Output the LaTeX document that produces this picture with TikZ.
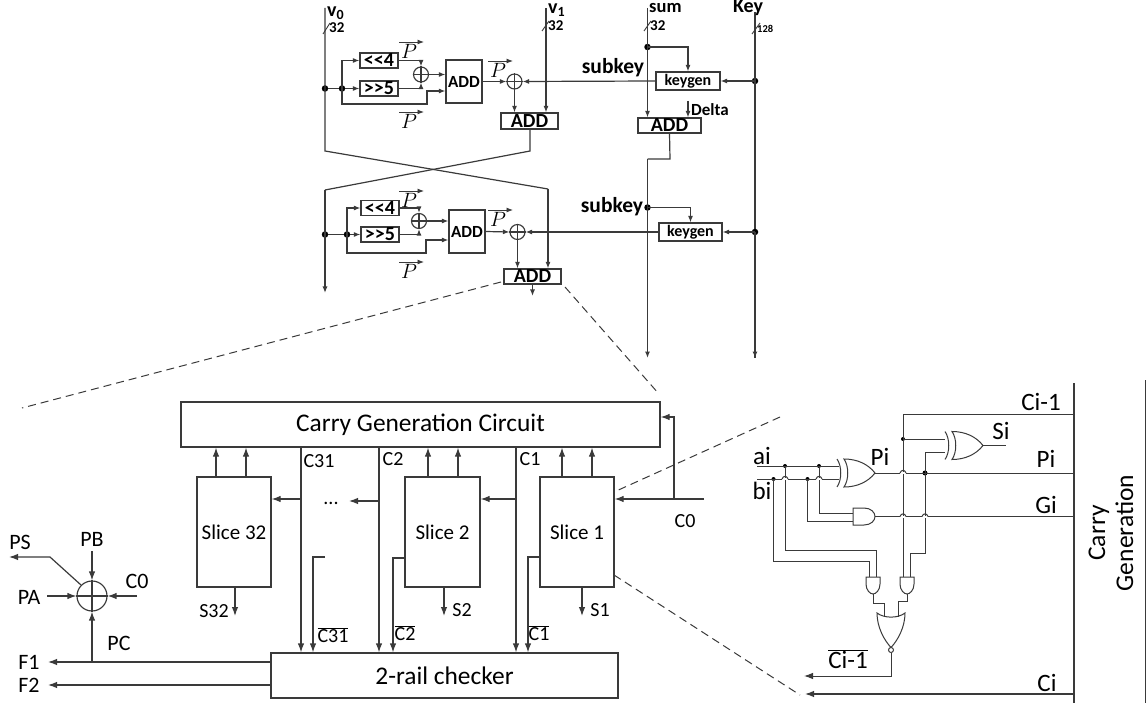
\documentclass[tikz,border=0pt]{standalone}
\usepackage{fontspec}
\setmainfont{Carlito}
\usetikzlibrary{arrows.meta}
\definecolor{ink}{HTML}{3A3A3A}
\tikzset{
  wire/.style={draw=ink,line width=1.2pt,line join=miter},
  thin wire/.style={draw=ink,line width=1pt,line join=miter},
  arrS/.style={wire,-{Latex[length=6.5pt,width=5pt]}},
  arrL/.style={wire,-{Latex[length=9pt,width=6.5pt]}},
  boxn/.style={draw=ink,line width=1.2pt,fill=white,inner sep=0pt,text=black},
  dot/.style={circle,fill=black,inner sep=0pt,minimum size=6.5pt},
  sdot/.style={circle,fill=black,inner sep=0pt,minimum size=4pt},
  xorc/.style={circle,draw=ink,line width=1.15pt,inner sep=0pt,minimum size=15pt},
  tb/.style={inner sep=0pt,font=\fontsize{17}{17}\selectfont\bfseries},
  tbm/.style={inner sep=0pt,font=\fontsize{20}{20}\selectfont\bfseries},
  tbs/.style={inner sep=0pt,font=\fontsize{16}{16}\selectfont\bfseries},
  tb32/.style={inner sep=0pt,font=\fontsize{15}{15}\selectfont\bfseries},
  tbl/.style={inner sep=0pt,font=\fontsize{21.5}{21.5}\selectfont\bfseries},
  tm/.style={inner sep=0pt,font=\fontsize{25.4}{25.4}\selectfont},
  ts/.style={inner sep=0pt,font=\fontsize{21}{21}\selectfont},
  tn/.style={inner sep=0pt,font=\fontsize{20}{20}\selectfont},
  tg/.style={inner sep=0pt,font=\fontsize{22}{22}\selectfont},
  tr/.style={inner sep=0pt,font=\fontsize{25}{25}\selectfont},
  pl/.style={inner sep=0pt,font=\fontsize{21}{21}\selectfont},
  dashline/.style={draw=ink,line width=1pt,dash pattern=on 8pt off 5pt},
  tick/.style={draw=ink,line width=.9pt},
}
\newcommand{\hopat}[2]{%
  \draw[white,line width=2pt] (#1-3,#2) -- (#1+3,#2);
  \draw[thin wire] (#1-3,#2) .. controls (#1-2,#2-3.5) and (#1+2,#2-3.5) .. (#1+3,#2);}
\newcommand{\xorgate}[3]{%
  \draw[thin wire] (#1+4,#2-14) .. controls (#1+17,#2-14) and (#1+28,#2-9) .. (#1+35,#2)
     .. controls (#1+28,#2+9) and (#1+17,#2+14) .. (#1+4,#2+14)
     .. controls (#1+9,#2+7) and (#1+9,#2-7) .. (#1+4,#2-14) -- cycle;
  \draw[thin wire] (#1-3,#2-14) .. controls (#1+2,#2-7) and (#1+2,#2+7) .. (#1-3,#2+14);
  \coordinate (#3) at (#1+35,#2);}
\newcommand{\andright}[3]{% back x, centre y
  \draw[thin wire] (#1,#2-8.5) -- (#1+11,#2-8.5) .. controls (#1+18,#2-8.5) and (#1+22,#2-4) .. (#1+22,#2)
     .. controls (#1+22,#2+4) and (#1+18,#2+8.5) .. (#1+11,#2+8.5) -- (#1,#2+8.5) -- cycle;
  \coordinate (#3) at (#1+22,#2);}
\newcommand{\anddown}[3]{% left x, top y
  \draw[thin wire] (#1,#2) -- (#1+14,#2) -- (#1+14,#2+7) .. controls (#1+14,#2+13) and (#1+10,#2+17) .. (#1+7,#2+17)
     .. controls (#1+4,#2+17) and (#1,#2+13) .. (#1,#2+7) -- cycle;
  \coordinate (#3) at (#1+7,#2+17);}
\begin{document}
\begin{tikzpicture}[x=1pt,y=-1pt]
\useasboundingbox (0,0) rectangle (1146,703);

% ===== Named junctions of the cipher rounds =====
\coordinate (v0t) at (325,8);
\coordinate (v1t) at (546,8);
\coordinate (sumt) at (647.5,8);
\coordinate (keyt) at (755,12);
\coordinate (keyb) at (755,358);
\coordinate (sumb) at (647.5,358);
\coordinate (a1) at (325,151);
\coordinate (a2) at (548,189);
\coordinate (b1) at (530,151);
\coordinate (b2) at (325,190);
\coordinate (v0b) at (325,293);
\coordinate (delta) at (688,101);
\coordinate (c1) at (670,159);
\coordinate (c2) at (647.5,159);

% ----- round 1
\node[boxn,tbm,minimum width=38pt,minimum height=15pt] (sl1) at (379,60.5) {<{}<4};
\node[boxn,tbm,minimum width=38pt,minimum height=15pt] (sr1) at (379,88.5) {>{}>5};
\node[boxn,tb,minimum width=36pt,minimum height=43pt] (add1) at (464,81.5) {ADD};
\node[xorc] (x1) at (421,74.5) {};
\node[xorc] (x2) at (514.5,81.5) {};
\node[boxn,tbm,minimum width=57pt,minimum height=16pt] (add2) at (529.5,121) {ADD};
\node[boxn,tbs,minimum width=64pt,minimum height=18pt] (kg1) at (688,81) {keygen};
\node[boxn,tbm,minimum width=63pt,minimum height=15pt] (add3) at (669.5,125.5) {ADD};
\node[dot] (d1) at (325,88.5) {};
\node[dot] (d2) at (342,88.5) {};
\node[dot] (dsum) at (647.5,47) {};
\node[dot] (dkey1) at (755,81) {};

\draw[wire] (x1.north)--(x1.south) (x1.west)--(x1.east);
\draw[wire] (x2.north)--(x2.south) (x2.west)--(x2.east);
\draw[wire] (v0t)--(a1)--(a2);
\draw[wire] (d1)--(d2);
\draw[arrS] (d2) -- (sr1.west);
\draw[arrS] (d2.center) |- (sl1.west);
\draw[arrS] (d2.center) -- (342,104) -- (427,104) -- (427,91) -- (add1.west |- 427,91);
\draw[arrS] (sl1.east) -| (x1.north);
\draw[arrS] (sr1.east) -| (x1.south);
\draw[arrS] (x1.east) -- (add1.west |- x1.east);
\draw[arrS] (add1.east) -- (x2.west);
\draw[arrS] (kg1.west) -- (x2.east);
\draw[arrS] (x2.south) -- (add2.north -| x2.south);
\draw[arrS] (v1t) -- (add2.north -| v1t);
\draw[wire] (add2.south) ++(0.5,0) -- (b1) -- (b2);
\draw[arrS] (sumt) -- (add3.north -| sumt);
\draw[arrS] (dsum.center) -| (kg1.north);
\draw[wire] (keyt) -- (keyb);
\draw[arrS] (dkey1.center) -- (kg1.east);
\draw[arrS] (delta) -- (add3.north -| delta);
\draw[wire] (add3.south) -- (c1) -- (c2);

% ----- round 2
\node[boxn,tbm,minimum width=38pt,minimum height=15pt] (sl2) at (380,208) {<{}<4};
\node[boxn,tbm,minimum width=38pt,minimum height=15pt] (sr2) at (380,234.5) {>{}>5};
\node[boxn,tb,minimum width=36pt,minimum height=43pt] (add4) at (467,231.5) {ADD};
\node[xorc] (x3) at (419,221) {};
\node[xorc] (x4) at (517.5,232) {};
\node[boxn,tbm,minimum width=57pt,minimum height=15pt] (add5) at (532.5,276.5) {ADD};
\node[boxn,tbs,minimum width=63pt,minimum height=18pt] (kg2) at (690.5,232) {keygen};
\node[dot] (d3) at (325,234.5) {};
\node[dot] (d4) at (347,234.5) {};
\node[dot] (dsub) at (647.5,207.5) {};
\node[dot] (dkey2) at (755,232) {};
\coordinate (add5out) at (532.5,296);

\draw[wire] (x3.north)--(x3.south) (x3.west)--(x3.east);
\draw[wire] (x4.north)--(x4.south) (x4.west)--(x4.east);
\draw[arrS] (b2) -- (v0b);
\draw[wire] (d3)--(d4);
\draw[arrS] (d4) -- (sr2.west);
\draw[arrS] (d4.center) |- (sl2.west);
\draw[arrS] (d4.center) -- (347,253) -- (426,253) -- (426,240) -- (add4.west |- 426,240);
\draw[arrS] (sl2.east) -| (x3.north);
\draw[arrS] (sr2.east) -| (x3.south);
\draw[arrS] (x3.east) -- (add4.west |- x3.east);
\draw[arrS] (add4.east) -- (x4.west);
\draw[arrS] (kg2.west) -- (x4.east);
\draw[arrS] (x4.south) -- (add5.north -| x4.south);
\draw[arrS] (a2) -- (add5.north -| a2);
\draw[arrS] (add5.south) -- (add5out);
\draw[arrS] (c2) -- (sumb);
\draw[arrS] (dsub.center) -| (kg2.north);
\draw[arrS] (dkey2.center) -- (kg2.east);
\draw[arrS] (dkey2.center) -- (keyb);

% bus ticks
\draw[tick] (323,34)--(330,23);
\draw[tick] (542,31)--(549,21);
\draw[tick] (644,31)--(651,21);
\draw[tick] (752,34)--(760,23);

% P arrows
\foreach \n/\x/\y in {pa/399/42,pb/488/61,pc/399/112,pd/399/191,pe/488/210,pf/399/262}{
  \coordinate (\n s) at (\x,\y);
  \coordinate (\n e) at (\x+25,\y);
  \draw[arrS,line width=.9pt] (\n s) -- (\n e);
  \node[pl] (\n t) at (\x+10,\y+9) {$P$};
}

% top labels
\node[tbm,anchor=west] (lv0) at (327,13) {v\textsubscript{0}};
\node[tb32,anchor=west] (l32a) at (329,28) {32};
\node[tbm,anchor=west] (lv1) at (548,10) {v\textsubscript{1}};
\node[tb32,anchor=west] (l32b) at (548,26) {32};
\node[tb,font=\fontsize{18.5}{18.5}\selectfont\bfseries,anchor=west] (lsum) at (649,8) {sum};
\node[tb32,anchor=west] (l32c) at (650,26) {32};
\node[tbm] (lkey) at (748,8) {Key};
\node[inner sep=0pt,anchor=west,font=\fontsize{10.5}{10.5}\selectfont\bfseries] (l128) at (757,29) {128};
\node[tbl] (lsk1) at (613,68) {subkey};
\node[tbl] (lsk2) at (612,207) {subkey};
\node[tbs,font=\fontsize{17}{17}\selectfont\bfseries,anchor=west] (ldelta) at (691,110) {Delta};

% dashed magnifier lines
\coordinate (m1) at (501,282);
\coordinate (m2) at (22,408);
\coordinate (m3) at (565,287);
\coordinate (m4) at (659,394);
\coordinate (m5) at (780,417);
\coordinate (m6) at (614,492);
\coordinate (m7) at (614,575);
\coordinate (m8) at (800,695);
\draw[dashline] (m1)--(m2);
\draw[dashline] (m3)--(m4);
\draw[dashline] (m5)--(m6);
\draw[dashline] (m7)--(m8);

% ===== Adder =====
\node[boxn,tm,minimum width=479pt,minimum height=45pt] (cgc) at (420.5,424.5) {Carry Generation Circuit};
\node[boxn,ts,minimum width=74pt,minimum height=110pt] (s1) at (577,532) {Slice 1};
\node[boxn,ts,minimum width=75pt,minimum height=110pt] (s2) at (442.5,532) {Slice 2};
\node[boxn,ts,minimum width=74pt,minimum height=110pt] (s32) at (234,532) {Slice 32};
\node[boxn,tm,minimum width=347pt,minimum height=45pt] (chk) at (444.5,675.5) {2-rail checker};
\coordinate (c0r) at (704,499);
\coordinate (c0j) at (674,499);
\coordinate (c0u) at (674,417);

\draw[arrL] (c0r) -- (s1.east |- c0r);
\draw[arrL] (c0j) -- (c0u) -- (cgc.east |- c0u);
\foreach \x in {562,592}{\draw[arrL] (s1.north -| \x,0) -- (cgc.south -| \x,0);}
\foreach \x in {428,458}{\draw[arrL] (s2.north -| \x,0) -- (cgc.south -| \x,0);}
\foreach \x in {216,246}{\draw[arrL] (s32.north -| \x,0) -- (cgc.south -| \x,0);}
\foreach \x in {516,379,301}{\draw[arrL] (cgc.south -| \x,0) -- (chk.north -| \x,0);}
\draw[arrL] (516,499) -- (s2.east |- 516,499);
\coordinate (dots) at (349,501);
\draw[arrL] (379,501) -- (dots);
\draw[arrL] (301,499) -- (s32.east |- 301,499);
\draw[arrL] (s1.west |- 528,557) -- (528,557) -- (chk.north -| 528,0);
\draw[arrL] (s2.west |- 393,558) -- (393,558) -- (chk.north -| 393,0);
\coordinate (c31s) at (325,557);
\draw[arrL] (c31s) -- (313,557) -- (chk.north -| 313,0);
\coordinate (s1o) at (582,616);
\coordinate (s2o) at (444,616);
\coordinate (s32o) at (235,616);
\draw[arrL] (s1.south -| s1o) -- (s1o);
\draw[arrL] (s2.south -| s2o) -- (s2o);
\draw[arrL] (s32.south -| s32o) -- (s32o);

\node[tn] (tc0) at (685,521) {C0};
\node[tn] (tc31) at (319,461) {C31};
\node[tn] (tc2) at (393,459) {C2};
\node[tn] (tc1) at (530,459) {C1};
\node[tn] (tdots) at (331,503) {...};
\node[tn] (ts1) at (600,610) {S1};
\node[tn] (ts2) at (462,610) {S2};
\node[tn] (ts32) at (214,611) {S32};
\node[tn] (tc31b) at (333,635) {$\overline{\mbox{C31}}$};
\node[tn] (tc2b) at (405,633) {$\overline{\mbox{C2}}$};
\node[tn] (tc1b) at (539,633) {$\overline{\mbox{C1}}$};

% parity
\node[circle,draw=ink,line width=1.15pt,inner sep=0pt,minimum size=30pt] (pcirc) at (92,596) {};
\draw[wire] (pcirc.north)--(pcirc.south) (pcirc.west)--(pcirc.east);
\coordinate (pbs) at (92,551);
\coordinate (pas) at (47,596);
\coordinate (c0s) at (137,596);
\coordinate (f1j) at (92,662);
\coordinate (f1e) at (48,662);
\coordinate (f2e) at (48,685);
\coordinate (psb) at (50,557);
\coordinate (pse) at (9,557);
\draw[arrL] (pbs) -- (pcirc.north);
\draw[arrL] (pas) -- (pcirc.west);
\draw[arrL] (c0s) -- (pcirc.east);
\draw[arrL] (f1j) -- (pcirc.south);
\draw[arrL] (chk.west |- f1e) -- (f1e);
\draw[arrL] (chk.west |- f2e) -- (f2e);
\draw[arrL] (pcirc.135) -- (psb) -- (pse);
\node[tg] (tps) at (20,542) {PS};
\node[tg] (tpb) at (92,539) {PB};
\node[tg] (tpa) at (29,597) {PA};
\node[tg] (tc0p) at (137,581) {C0};
\node[tg] (tpc) at (119,643) {PC};
\node[tg] (tf1) at (29,662) {F1};
\node[tg] (tf2) at (29,685) {F2};

% ===== Slice detail =====
\coordinate (ais) at (757,466);
\coordinate (bis) at (757,479);
\xorgate{840}{473}{xo}
\xorgate{948}{445.5}{xs}
\andright{853}{516.5}{ao}
\anddown{866}{577}{a1o}
\anddown{900}{577}{a2o}

\node[sdot] (na) at (785,466) {};
\node[sdot] (nb) at (819,466) {};
\node[sdot] (nc) at (773.5,479) {};
\node[sdot] (nd) at (807.5,479) {};
\node[sdot] (ne) at (903,439) {};
\node[dot,minimum size=5pt] (nf) at (925,473) {};
\coordinate (rtop) at (1074,383);
\coordinate (rbot) at (1074,703);
\coordinate (oute) at (1145.5,380);
\coordinate (outb) at (1145.5,703);
\coordinate (cim) at (1074,414);

\draw[thin wire] (ais) -- (839,466);
\draw[thin wire] (bis) -- (839,479);
\draw[thin wire] (xo) -- (1074,473);
\draw[thin wire] (ao) -- (1074,516.5);
\draw[thin wire] (cim) -- (903,414) -- (903,577);
\draw[thin wire] (ne.center) -- (945,439);
\draw[thin wire] (nf.center) -- (925,452) -- (945,452);
\draw[thin wire] (nf.center) -- (925,553) -- (910,553) -- (910,577);
\draw[thin wire] (xs) -- (1006,445.5);
\draw[thin wire] (nb.center) -- (819,513) -- (853,513);
\draw[thin wire] (nd.center) -- (807.5,521) -- (853,521);
\draw[thin wire] (na.center) -- (785,550) -- (876,550) -- (876,577);
\draw[thin wire] (nc.center) -- (773.5,561) -- (869,561) -- (869,577);

\hopat{785}{479}
\hopat{819}{479}
\hopat{903}{473}
\hopat{903}{516.5}
\hopat{925}{516.5}

% NOR
\draw[thin wire] (877,613) .. controls (884,618.5) and (898,618.5) .. (905,613)
   .. controls (905,627) and (898,640) .. (891,647.5)
   .. controls (884,640) and (877,627) .. (877,613) -- cycle;
\node[circle,draw=ink,line width=1pt,fill=white,inner sep=0pt,minimum size=5pt] (bub) at (891,650) {};
\draw[thin wire] (a1o) -- (873,603) -- (884,603) -- (884,617);
\draw[thin wire] (a2o) -- (907,601) -- (898,601) -- (898,617);
\coordinate (cib) at (891,676);
\coordinate (cie) at (804,676);
\coordinate (cc) at (1074,694);
\coordinate (cce) at (805,694);
\draw[arrL,line width=1pt] (bub.south) -- (cib) -- (cie);
\draw[arrL] (cc) -- (cce);
\draw[wire] (rtop) -- (rbot);
\draw[wire] (oute) -- (outb);

\node[tr] (tai) at (762,456) {ai};
\node[tr] (tbi) at (762,491) {bi};
\node[tr] (tpi1) at (880,457) {Pi};
\node[tr] (tsi) at (1001,431) {Si};
\node[tr] (tpi2) at (1046,459) {Pi};
\node[tr] (tgi) at (1046,505) {Gi};
\node[tr] (tcim) at (1041,402) {Ci-1};
\node[tr] (tcib) at (848,659) {$\overline{\mbox{Ci-1}}$};
\node[tr] (tci) at (1047,683) {Ci};
\node[tg,rotate=90,align=center,font=\fontsize{25.5}{28}\selectfont] (tcg) at (1111,533) {Carry\\Generation};
\end{tikzpicture}
\end{document}
